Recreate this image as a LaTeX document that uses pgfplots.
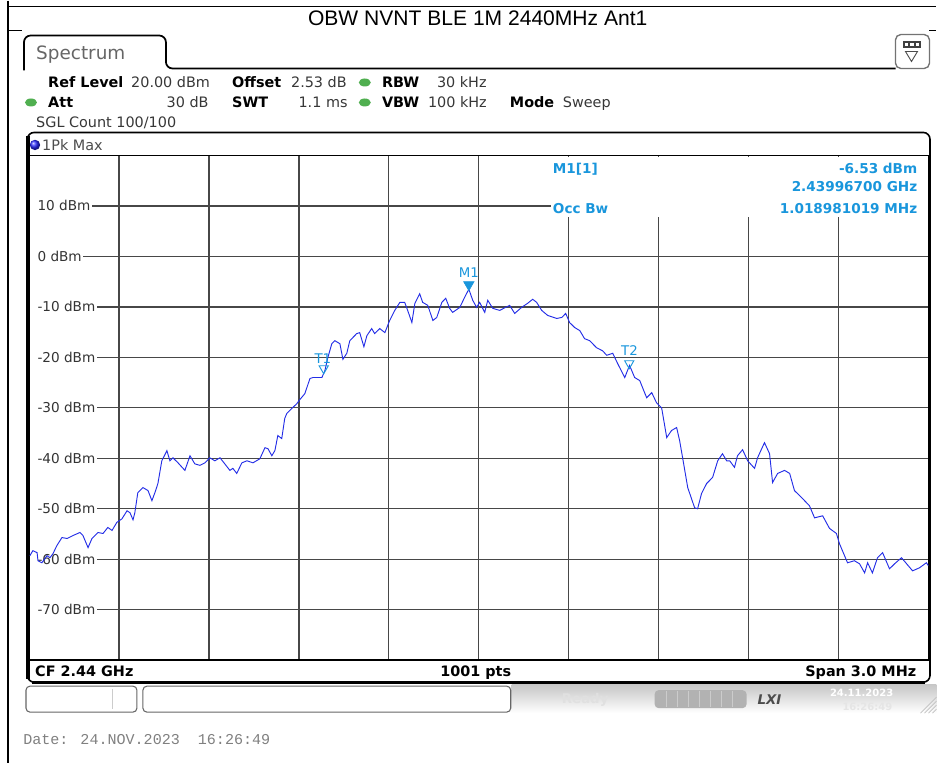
\documentclass[border=0pt]{standalone}
\usepackage{fontspec}
\setmainfont{DejaVu Sans}
\newfontfamily\arialf{Liberation Sans}
\newfontfamily\monof{Liberation Mono}
\usepackage{pgfplots}
\pgfplotsset{compat=1.18}
\definecolor{trace}{RGB}{35,45,230}
\definecolor{mk}{RGB}{25,150,220}
\definecolor{grn}{RGB}{80,175,80}
\definecolor{txt}{RGB}{55,55,55}
\pgfplotstableread{
x y
0.003 -59.3
0.013 -58.3
0.027 -58.7
0.030 -60.3
0.043 -60.7
0.060 -59.3
0.070 -59.7
0.080 -58.9
0.093 -57.3
0.110 -55.7
0.127 -55.9
0.147 -55.3
0.170 -54.7
0.180 -55.3
0.197 -57.7
0.210 -55.9
0.230 -54.7
0.247 -54.9
0.263 -53.7
0.277 -54.3
0.293 -52.7
0.310 -52.0
0.327 -50.4
0.337 -50.8
0.347 -52.2
0.353 -50.8
0.363 -46.8
0.380 -45.8
0.397 -46.4
0.410 -48.4
0.420 -46.8
0.430 -45.0
0.443 -40.5
0.460 -38.5
0.470 -40.5
0.480 -39.9
0.497 -40.9
0.520 -42.4
0.537 -39.5
0.553 -41.1
0.570 -41.4
0.587 -40.9
0.603 -39.9
0.620 -40.5
0.637 -39.9
0.653 -41.1
0.670 -42.4
0.680 -42.0
0.693 -43.0
0.710 -40.9
0.727 -40.5
0.747 -40.9
0.770 -40.1
0.787 -37.9
0.797 -38.1
0.810 -39.5
0.820 -38.5
0.830 -35.5
0.843 -36.1
0.853 -32.1
0.860 -31.1
0.877 -30.1
0.893 -29.2
0.903 -28.4
0.920 -27.2
0.937 -24.2
0.947 -24.0
0.977 -24.0
0.987 -22.6
0.997 -20.0
1.010 -17.3
1.020 -16.7
1.037 -17.3
1.047 -20.4
1.060 -19.2
1.070 -16.7
1.093 -15.3
1.103 -15.1
1.117 -17.9
1.127 -15.7
1.143 -14.3
1.153 -15.3
1.170 -14.3
1.187 -15.1
1.203 -12.7
1.220 -10.7
1.237 -9.1
1.253 -9.1
1.263 -10.7
1.277 -13.1
1.287 -9.3
1.303 -7.4
1.313 -9.1
1.330 -9.7
1.347 -12.7
1.360 -12.1
1.377 -9.1
1.390 -8.3
1.403 -10.3
1.413 -11.1
1.437 -10.1
1.453 -8.1
1.467 -6.5
1.480 -8.7
1.493 -10.1
1.503 -9.1
1.520 -11.1
1.530 -8.7
1.547 -10.3
1.570 -10.7
1.603 -9.7
1.620 -11.3
1.643 -10.1
1.663 -9.3
1.680 -8.5
1.693 -9.1
1.710 -10.7
1.730 -11.7
1.760 -12.3
1.777 -12.1
1.790 -11.3
1.803 -13.1
1.820 -14.1
1.837 -14.7
1.853 -16.3
1.870 -16.7
1.893 -18.1
1.913 -18.7
1.927 -19.6
1.947 -19.2
1.963 -21.2
1.987 -24.0
2.003 -21.6
2.020 -24.0
2.037 -24.6
2.060 -28.0
2.077 -27.0
2.093 -29.0
2.110 -30.0
2.127 -35.9
2.143 -34.5
2.160 -33.9
2.170 -36.5
2.180 -39.9
2.197 -45.8
2.220 -49.8
2.230 -50.0
2.243 -47.0
2.260 -45.0
2.280 -43.8
2.297 -40.5
2.313 -39.1
2.327 -40.5
2.337 -40.5
2.353 -41.8
2.363 -39.5
2.380 -38.3
2.397 -40.5
2.420 -42.0
2.430 -39.9
2.453 -36.9
2.470 -39.1
2.480 -44.8
2.497 -43.0
2.520 -42.4
2.537 -43.0
2.553 -46.4
2.577 -47.8
2.603 -49.4
2.620 -51.8
2.647 -51.4
2.670 -53.9
2.693 -54.9
2.703 -56.9
2.730 -60.7
2.753 -60.3
2.770 -60.9
2.787 -62.7
2.797 -60.7
2.813 -62.7
2.830 -59.7
2.847 -58.7
2.870 -61.9
2.887 -60.9
2.910 -59.7
2.927 -60.9
2.947 -62.3
2.970 -61.7
2.993 -60.7
3.000 -61.3
}\tracedata
\begin{document}
\begin{tikzpicture}
\tikzset{
  hdr/.style={font=\fontsize{10.8}{12}\selectfont, inner sep=0pt, anchor=base west, text=txt},
  hdrb/.style={font=\fontsize{10.8}{12}\selectfont\bfseries, inner sep=0pt, anchor=base west, text=black},
  mkt/.style={font=\fontsize{10.2}{12}\selectfont\bfseries, inner sep=0pt, text=mk},
}
\begin{scope}[x=0.75pt,y=-0.75pt]
\path (0,0) rectangle (937,763);
% outer table lines
\draw[line width=0.8pt] (8,6) -- (937,6);
\draw[line width=0.8pt] (8,0) -- (8,763);
\draw[line width=0.8pt] (8,30) -- (22,30);
\draw[line width=0.8pt] (930,30) -- (937,30);
\node[font=\arialf\fontsize{15.8}{17}\selectfont, anchor=base, inner sep=0pt] at (478,25) {OBW NVNT BLE 1M 2440MHz Ant1};
% tab
\draw[line width=1.3pt, rounded corners=5pt] (24,70) -- (24,35) -- (166,35) -- (166,68) -- (896,68);
\node[font=\fontsize{13.8}{15}\selectfont, text=black!60, anchor=base west, inner sep=0pt] at (36,59) {Spectrum};
% icon
\draw[black!55, line width=1pt, rounded corners=4pt, fill=white] (896,34) rectangle (930,68);
\fill[black!75] (903,40) rectangle (922,47);
\fill[white] (905,42) rectangle (909,45);
\fill[white] (911,42) rectangle (915,45);
\fill[white] (917,42) rectangle (920,45);
\draw[black!70, line width=0.7pt] (906,51) -- (918,51) -- (912,61) -- cycle;
% header
\node[hdrb] at (48,87) {Ref Level};
\node[hdr] at (131,87) {20.00 dBm};
\node[hdrb] at (232,87) {Offset};
\node[hdr] at (291,87) {2.53 dB};
\fill[grn] (365,82) ellipse (6 and 4);
\node[hdrb] at (382,87) {RBW};
\node[hdr] at (437,87) {30 kHz};
\fill[grn] (31,102) ellipse (6 and 4);
\node[hdrb] at (48,107) {Att};
\node[hdr, anchor=base east] at (209,107) {30 dB};
\node[hdrb] at (232,107) {SWT};
\node[hdr, anchor=base east] at (348,107) {1.1 ms};
\fill[grn] (365,102) ellipse (6 and 4);
\node[hdrb] at (382,107) {VBW};
\node[hdr] at (428,107) {100 kHz};
\node[hdrb] at (510,107) {Mode};
\node[hdr] at (563,107) {Sweep};
\node[hdr] at (36,127) {SGL Count 100/100};
% diagram box
\draw[line width=1.2pt, rounded corners=5pt] (27.5,132) rectangle (930.5,682);
\draw[line width=2.4pt] (28,136) -- (28,679);
\draw[line width=2.2pt] (32,682) -- (926,682);
\shade[ball color=blue!85] (35,144.5) circle (5.2);
\node[hdr, text=black!70] at (42,150) {1Pk Max};
% status bar
\shade[top color=black!22, bottom color=white] (512,684.5) rectangle (937,713);
\draw[black!60, line width=0.8pt, rounded corners=3pt, fill=white] (26,686) rectangle (137,712);
\draw[black!20, line width=0.6pt] (112,689) -- (112,709);
\draw[black!60, line width=0.8pt, rounded corners=3pt, fill=white] (143,686) rectangle (511,712);
\node[font=\fontsize{10}{12}\selectfont\bfseries, text=white!88!black, anchor=base west, inner sep=0pt] at (562,703) {Ready};
\fill[black!30, rounded corners=3pt] (655,690) rectangle (747,708);
\foreach \xx in {667,678,689,700,711,722,733} \draw[white!80!black, line width=0.6pt] (\xx,691) -- (\xx,707);
\node[font=\fontsize{10}{10}\selectfont\bfseries\itshape, text=black!70, inner sep=0pt] at (770,699) {LXI};
\node[font=\fontsize{7.5}{9}\selectfont\bfseries, text=white, inner sep=0pt, anchor=base east] at (894,696) {24.11.2023};
\node[font=\fontsize{7.5}{9}\selectfont\bfseries, text=white!90!black, inner sep=0pt, anchor=base east] at (893,710) {16:26:49};
\foreach \dd in {0,4,8,12,16} \draw[black!25, line width=0.5pt] (921+\dd,713) -- (937,697+\dd);
% date
\node[font=\monof\fontsize{11.3}{13}\selectfont, text=black!50, anchor=base west, inner sep=0pt] at (23,744) {Date: 24.NOV.2023\ \ 16:26:49};
\end{scope}
\begin{axis}[
  at={(21.75pt,-495pt)}, anchor=south west,
  width=675pt, height=378.75pt, scale only axis,
  xmin=0, xmax=3, ymin=-80, ymax=20,
  xtick={0,0.3,...,3.01}, ytick={-80,-70,...,20},
  xticklabels={}, yticklabels={},
  major tick length=0pt,
  grid=major,
  major grid style={line width=1pt, black!72},
  axis line style={line width=1.1pt, black},
  clip=true,
]
\foreach \v/\lab in {10/10 dBm,0/0 dBm,-10/-10 dBm,-20/-20 dBm,-30/-30 dBm,-40/-40 dBm,-50/-50 dBm,-60/-60 dBm,-70/-70 dBm}{
  \edef\temp{\noexpand\node[fill=white, inner xsep=1pt, inner ysep=0.5pt, anchor=west, font=\noexpand\fontsize{10.2}{12}\noexpand\selectfont, text=black!80] at (axis cs:0.002,\v) {\noexpand\hspace*{4.8pt}\lab};}
  \temp
}
\addplot[trace, line width=0.7pt] table[x=x, y=y] {\tracedata};
\addplot[only marks, mark=triangle*, mark size=4.6pt, mark options={rotate=180, fill=mk, draw=mk}] coordinates {(1.467,-5.6)};
\addplot[only marks, mark=triangle, mark size=4pt, mark options={rotate=180, draw=mk, line width=0.7pt}] coordinates {(0.983,-22.2) (2.002,-21.2)};
\node[font=\fontsize{10}{12}\selectfont, text=mk, inner sep=0pt] at (axis cs:1.467,-3.2) {M1};
\node[font=\fontsize{10}{12}\selectfont, text=mk, inner sep=0pt] at (axis cs:0.980,-20.2) {T1};
\node[font=\fontsize{10}{12}\selectfont, text=mk, inner sep=0pt] at (axis cs:2.003,-18.7) {T2};
\end{axis}
\begin{scope}[x=0.75pt,y=-0.75pt]
\fill[white] (551,156.5) rectangle (928.5,216.5);
\node[mkt, anchor=base west] at (553,173) {M1[1]};
\node[mkt, anchor=base east] at (918,173) {-6.53 dBm};
\node[mkt, anchor=base east] at (918,191) {2.43996700 GHz};
\node[mkt, anchor=base west] at (553,213) {Occ Bw};
\node[mkt, anchor=base east] at (918,213) {1.018981019 MHz};
\node[hdrb, text=black] at (35,676) {CF 2.44 GHz};
\node[hdrb, text=black, anchor=base] at (476,676) {1001 pts};
\node[hdrb, text=black, anchor=base east] at (917,676) {Span 3.0 MHz};
\end{scope}
\end{tikzpicture}
\end{document}
